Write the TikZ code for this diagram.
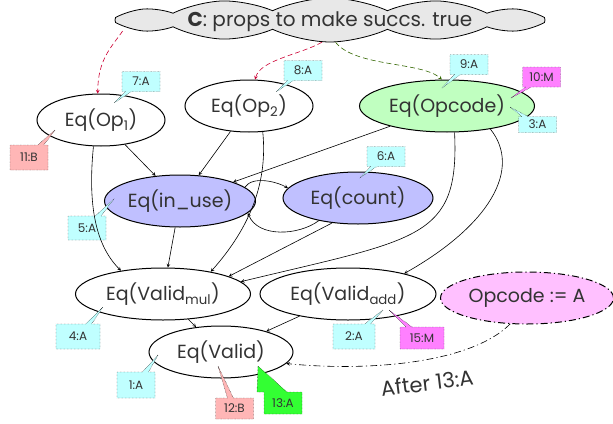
\documentclass[tikz,border=0pt]{standalone}
\usepackage{fontspec}
\setmainfont{Poppins}
\usepackage{xcolor}
\usetikzlibrary{shapes}
\usetikzlibrary{calc}

\definecolor{txt}{HTML}{333333}
\definecolor{tagA}{HTML}{C0FFFF}
\definecolor{tagB}{HTML}{FFB6B6}
\definecolor{tagM}{HTML}{FF80FF}
\definecolor{tagG}{HTML}{33FF33}
\definecolor{fillcode}{HTML}{C0FFC0}
\definecolor{fillvar}{HTML}{C0C0FF}
\definecolor{fillasg}{HTML}{FFC0FF}
\definecolor{fillcloud}{HTML}{E8E8E8}
\definecolor{redarr}{HTML}{CC0033}
\definecolor{greenarr}{HTML}{336600}

\begin{document}
\begin{tikzpicture}[x=1pt, y=-1pt]
\tikzstyle{eq}   = [ellipse, draw, line width=1pt, inner sep=0pt, minimum width=128pt, minimum height=52pt, text=txt, font=\fontsize{19}{21}\selectfont]
\tikzstyle{tag}  = [rectangle callout, draw, densely dotted, inner sep=2pt, minimum width=38pt, minimum height=20pt, callout pointer width=6pt, text=txt, font=\fontsize{12}{14}\selectfont]
\tikzstyle{dep}  = [->, >=stealth, line width=0.6pt]
\tikzstyle{cdash} = [dash pattern=on 5pt off 3pt]
\tikzstyle{dashdot} = [dash pattern=on 7pt off 3pt on 1.2pt off 3pt]
\useasboundingbox (0,0) rectangle (613,423);
\node [cloud, draw, line width=0.8pt, fill=fillcloud, cloud puffs=12, cloud puff arc=50, cloud ignores aspect, inner sep=0pt, text height=14pt, text depth=0pt, minimum width=430pt, minimum height=44pt, text=txt, font=\fontsize{20}{22}\selectfont](c) at (330,20) {\textbf{C}: props to make succs. true};
\node [eq](op1) at (101,120) {Eq(Op\textsubscript{1})};
\node [eq](op2) at (249,106) {Eq(Op\textsubscript{2})};
\node [eq, fill=fillcode, minimum width=175pt](opc) at (447,106) {Eq(Opcode)};
\node [eq, fill=fillvar, minimum width=151pt](inuse) at (180,201) {Eq(in\_use)};
\node [eq, fill=fillvar, minimum width=150pt](count) at (358,198) {Eq(count)};
\node [eq, minimum width=175pt](vmul) at (163,294) {Eq(Valid\textsubscript{mul})};
\node [eq, minimum width=176pt](vadd) at (348,294) {Eq(Valid\textsubscript{add})};
\node [eq, fill=fillasg, dashdot, minimum width=173pt](asg) at (527,298) {Opcode := A};
\node [eq, minimum width=144pt](valid) at (221,352) {Eq(Valid)};
 %%Tags
\node [tag, fill=tagA, callout absolute pointer={(114,103)}](t7) at (141,81.5) {7:A};
\node [tag, fill=tagA, callout absolute pointer={(276,92)}](t8) at (303,70.5) {8:A};
\node [tag, fill=tagA, callout absolute pointer={(442,88)}](t9) at (469,64.5) {9:A};
\node [tag, fill=tagM, callout absolute pointer={(511,98)}](t10) at (541.5,77) {10:M};
\node [tag, fill=tagA, minimum height=16pt, callout absolute pointer={(510,107)}](t3) at (537.5,124.5) {3:A};
\node [tag, fill=tagB, minimum height=25pt, callout absolute pointer={(55,130)}](t11) at (29,157.5) {11:B};
\node [tag, fill=tagA, minimum height=24pt, callout absolute pointer={(113,200)}](t5) at (87,228) {5:A};
\node [tag, fill=tagA, callout absolute pointer={(361,177)}](t6) at (386,156.5) {6:A};
\node [tag, fill=tagA, minimum width=44pt, minimum height=25pt, callout absolute pointer={(103,307)}](t4) at (78,336.5) {4:A};
\node [tag, fill=tagA, minimum height=26pt, callout absolute pointer={(158,355)}](t1) at (136,385) {1:A};
\node [tag, fill=tagB, minimum height=21pt, callout absolute pointer={(218,366)}](t12) at (234.5,408.5) {12:B};
\node [tag, fill=tagG, minimum height=22pt, callout pointer width=30pt, callout absolute pointer={(258,366)}](t13) at (283,403) {13:A};
\node [tag, fill=tagA, minimum width=42pt, minimum height=25pt, callout absolute pointer={(383,310)}](t2) at (354,336.5) {2:A};
\node [tag, fill=tagM, minimum width=44pt, minimum height=22pt, callout absolute pointer={(389,310)}](t15) at (422,338) {15:M};
 %%Edges
\draw [dep] (op1) -- (inuse);
\draw [dep] (op2) -- (inuse);
\draw [dep] (opc) -- (inuse);
\draw [dep] (inuse) -- (vmul);
\draw [dep] (vmul) -- (valid);
\draw [dep] (vadd) -- (valid);
\draw [dep] (op1.254) .. controls +(-6,60) and +(-25,-25) .. (vmul.151);
\draw [dep] (op2.298) .. controls +(5,50) and +(40,-45) .. (vmul.25);
\draw [dep] (opc.286) .. controls +(5,107) and +(178,-43) .. (vmul.9);
\draw [dep] (opc.332) .. controls +(32,40) and +(85,-48) .. (vadd.20);
\draw [dep] (count.224) -- (vmul.15);
\draw [dep] (inuse.12) .. controls +(8,-12) and +(-10,-6) .. (count.172);
\draw [dep] (count.210) .. controls +(-20,15) and +(10,25) .. (inuse.350);
 %%From C
\draw [dep, cdash, redarr] ($(c.west)+(8,11)$) .. controls +(-10,15) and +(0,-35) .. (op1.97);
\draw [dep, cdash, redarr] (c.250) .. controls +(-20,12) and +(5,-20) .. (op2.77);
\draw [dep, cdash, greenarr] (c.284) .. controls +(20,25) and +(-20,-18) .. (opc.101);
 %%After
\draw [dep, dashdot] (asg.237) .. controls +(-40,40) and +(80,8) .. (valid.350);
\node [rotate=7, text=txt, font=\fontsize{21}{23}\selectfont](after) at (427,383) {After 13:A};
\end{tikzpicture}
\end{document}
